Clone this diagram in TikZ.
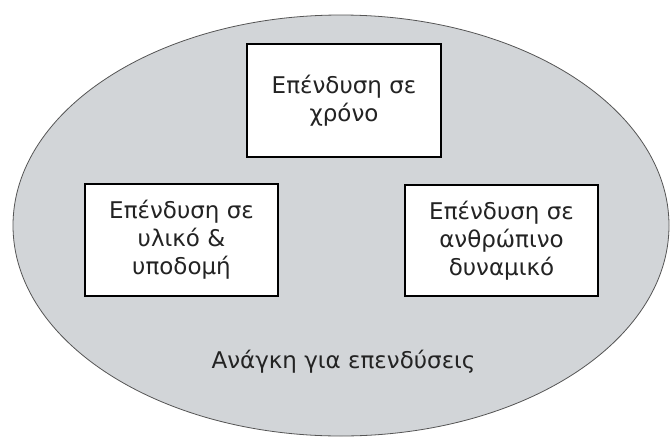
\documentclass[tikz,border=0pt]{standalone}
\usepackage{fontspec}
\setmainfont{DejaVu Sans}
\usetikzlibrary{shapes.geometric}
\definecolor{ellfill}{RGB}{210,213,216}
\definecolor{ellline}{RGB}{85,85,85}
\definecolor{txt}{RGB}{35,35,35}
\tikzset{
  box/.style={draw=black, line width=1.3pt, fill=white, text=txt,
    align=center, inner sep=0pt, font=\fontsize{23}{28}\selectfont},
  lbl/.style={text=txt, inner sep=0pt, font=\fontsize{23}{28}\selectfont}
}
\begin{document}
\begin{tikzpicture}[x=1pt,y=-1pt]
\useasboundingbox (0,0) rectangle (670,437);
\fill[white] (0,0) rectangle (670,437);
\node[draw=ellline, line width=0.8pt, fill=ellfill, ellipse, minimum width=656pt, minimum height=421pt, inner sep=0pt] (ell) at (341,225.5) {};
\node[box, minimum width=194pt, minimum height=113pt] (time) at (344,100.5) {Επένδυση σε\\χρόνο};
\node[box, minimum width=193pt, minimum height=112pt] (mat) at (181.5,240) {Επένδυση σε\\υλικό \&\\υποδομή};
\node[box, minimum width=193pt, minimum height=111pt] (hum) at (501.5,240.5) {Επένδυση σε\\ανθρώπινο\\δυναμικό};
\node[lbl, anchor=base] (need) at (343.5,368) {Ανάγκη για επενδύσεις};
\end{tikzpicture}
\end{document}
